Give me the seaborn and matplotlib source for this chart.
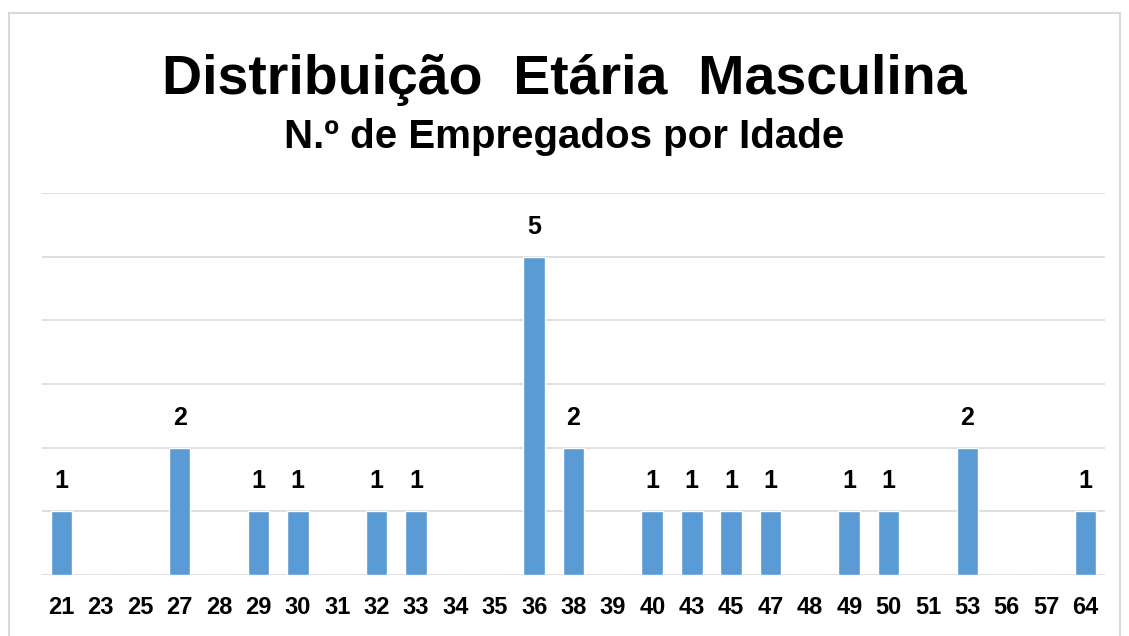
import matplotlib
matplotlib.use("Agg")
import matplotlib.pyplot as plt
import seaborn as sns
import pandas as pd
from matplotlib.patches import Rectangle

idades = ["21", "23", "25", "27", "28", "29", "30", "31", "32", "33", "34", "35", "36", "38",
          "39", "40", "43", "45", "47", "48", "49", "50", "51", "53", "56", "57", "64"]
empregados = [1, 0, 0, 2, 0, 1, 1, 0, 1, 1, 0, 0, 5, 2,
              0, 1, 1, 1, 1, 0, 1, 1, 0, 2, 0, 0, 1]

data = pd.DataFrame({"Idade": idades, "Empregados": empregados})

sns.set_style("white")
plt.rcParams['font.family'] = ['Liberation Sans', 'DejaVu Sans']

fig = plt.figure(figsize=(11.29, 6.36), dpi=100)
ax = fig.add_axes([0.037, 0.096, 0.942, 0.6005])

sns.barplot(data=data, x="Idade", y="Empregados", color="#5b9bd5", width=0.55,
            saturation=1, ax=ax, zorder=3)

for i, v in enumerate(empregados):
    if v > 0:
        ax.text(i, v + 0.47, str(v), ha="center", va="center", fontsize=18,
                fontweight="bold", color="black")

ax.set_ylim(0, 6)
ax.set_xlim(-0.5, len(idades) - 0.5)
ax.set_yticks(range(0, 7))
ax.set_yticklabels([])
ax.tick_params(axis="y", length=0)
ax.tick_params(axis="x", length=0, pad=15)
for lbl in ax.get_xticklabels():
    lbl.set_fontsize(17)
    lbl.set_fontweight("bold")
    lbl.set_color("black")
ax.grid(axis="y", color="#d9d9d9", linewidth=1.2, zorder=0)
ax.set_xlabel("")
ax.set_ylabel("")
for s in ax.spines.values():
    s.set_visible(False)

fig.text(0.5, 0.874, "Distribuição  Etária  Masculina", ha="center", va="center",
         fontsize=40, fontweight="bold", color="black")
fig.text(0.5, 0.784, "N.º de Empregados por Idade", ha="center", va="center",
         fontsize=29, fontweight="bold", color="black")

fig.patches.append(Rectangle((0.008, -0.01), 0.984, 0.989, transform=fig.transFigure,
                             fill=False, edgecolor="#d9d9d9", linewidth=1.5))

fig.savefig("out.png", dpi=100)
